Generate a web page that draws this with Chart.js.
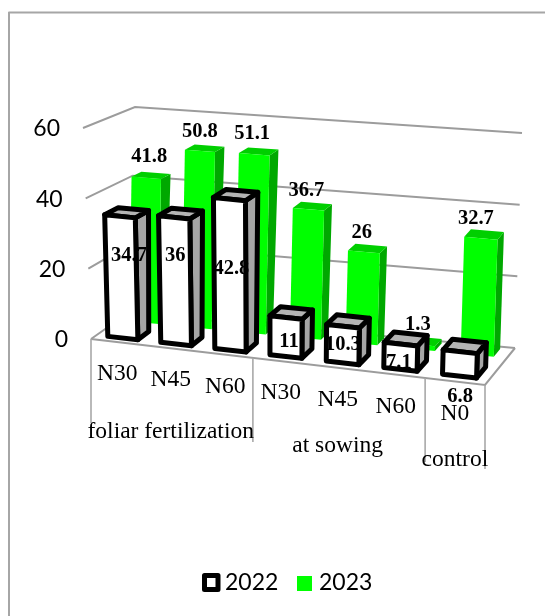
<!DOCTYPE html>
<html><head><meta charset="utf-8">
<style>html,body{margin:0;padding:0;background:#fff;overflow:hidden}canvas{display:block}</style>
<script src="https://cdn.jsdelivr.net/npm/chart.js@4"></script>
</head><body><canvas id="c" width="545" height="616"></canvas>
<script>
const categories = ['N30','N45','N60','N30','N45','N60','N0'];
const groupNames = ['foliar fertilization','at sowing','control'];
const groupSpans = [3,3,1];
const values2022 = [34.7,36,42.8,11,10.3,7.1,6.8];
const values2023 = [41.8,50.8,51.1,36.7,26,1.3,32.7];
const yTicks = [0,20,40,60];
// label nudges from the top-front centre of each bar, in px
const nudge2022 = [[9,39],[1,38],[2,70],[3,24],[0,18],[-2,19],[0,45]];
const nudge2023 = [[3,-21],[0,-19],[-2,-20],[-2,-19],[-2,-19],[-1,-20],[-5,-20]];
const groupNudge = [84,78,78];

const A={x:91,y:339},B={x:485,y:385},C={x:128,y:313},D={x:515,y:348};
const VA={x:-8,y:-211},VB={x:7,y:-215},VC={x:7,y:-206},VD={x:7,y:-215};
const k=0.93;
const warp=u=>k*u/(1+(k-1)*u);
const mix=(p,q,t)=>({x:p.x+(q.x-p.x)*t,y:p.y+(q.y-p.y)*t});
function project(u,v,h){
  const w=warp(u);
  const f=mix(mix(A,B,w),mix(C,D,w),v), t=mix(mix(VA,VB,w),mix(VC,VD,w),v);
  return {x:f.x+t.x*h,y:f.y+t.y*h};
}
function poly(ctx,pts,fill,stroke,lw){
  ctx.beginPath();pts.forEach((p,i)=>i?ctx.lineTo(p.x,p.y):ctx.moveTo(p.x,p.y));ctx.closePath();
  ctx.fillStyle=fill;ctx.fill();
  if(stroke&&lw){ctx.strokeStyle=stroke;ctx.lineWidth=lw;ctx.lineJoin='round';ctx.stroke();}
}
const uOf=(chart,px)=>(px-chart.scales.x.left)/chart.scales.x.width;
const hOf=(chart,val)=>{const y=chart.scales.y;return (y.bottom-y.getPixelForValue(val))/(y.bottom-y.top);};

Chart.BarController.prototype.draw=function(){
  const chart=this.chart,ctx=chart.ctx,ds=this.getDataset();
  this.getMeta().data.forEach(el=>{
    const u0=uOf(chart,el.x-el.width/2),u1=uOf(chart,el.x+el.width/2);
    const h=(el.base-el.y)/(chart.scales.y.bottom-chart.scales.y.top);
    const v0=ds.depthFrom,v1=ds.depthFrom+ds.depth;
    const P=(u,v,t)=>project(u,v,t);
    const side=[P(u1,v0,0),P(u1,v1,0),P(u1,v1,h),P(u1,v0,h)];
    const top=[P(u0,v0,h),P(u1,v0,h),P(u1,v1,h),P(u0,v1,h)];
    const front=[P(u0,v0,0),P(u1,v0,0),P(u1,v0,h),P(u0,v0,h)];
    poly(ctx,side,ds.sideColor,ds.edgeColor,ds.edgeWidth);
    poly(ctx,top,ds.topColor,ds.edgeColor,ds.edgeWidth);
    poly(ctx,front,ds.backgroundColor,ds.edgeColor,ds.edgeWidth);
  });
};

const chart3d={
  id:'chart3d',
  beforeDatasetsDraw(chart){
    const ctx=chart.ctx;
    ctx.save();
    ctx.strokeStyle='#9c9c9c';ctx.lineWidth=2;ctx.lineJoin='miter';
    const ln=pts=>{ctx.beginPath();pts.forEach((p,i)=>i?ctx.lineTo(p.x,p.y):ctx.moveTo(p.x,p.y));ctx.stroke();};
    yTicks.forEach(t=>{
      const h=hOf(chart,t);
      ln([project(0,0,h),project(0,1,h),project(1,1,h)]);
    });
    ln([project(0,0,0),project(1,0,0),project(1,1,0)]);
    // group separators
    ctx.strokeStyle='#a8a8a8';ctx.lineWidth=1.6;
    let acc=0;
    const n=categories.length;
    [0,...groupSpans].forEach(s=>{
      acc+=s;const p=project(acc/n,0,0);
      ln([p,{x:p.x,y:p.y+84}]);
    });
    ctx.restore();
  },
  afterDatasetsDraw(chart){
    const ctx=chart.ctx,n=categories.length,xs=chart.scales.x;
    ctx.save();
    ctx.textAlign='center';ctx.textBaseline='middle';ctx.fillStyle='#000';
    // value labels
    ctx.font='bold 20.5px "Liberation Serif"';
    chart.data.datasets.forEach((ds,di)=>{
      const nudges=di===0?nudge2022:nudge2023;
      chart.getDatasetMeta(di).data.forEach((el,i)=>{
        const p=project(uOf(chart,el.x),ds.depthFrom,hOf(chart,ds.data[i]));
        ctx.fillText(String(ds.data[i]),p.x+nudges[i][0],p.y+nudges[i][1]);
      });
    });
    // category labels
    ctx.font='23.5px "Liberation Serif"';
    categories.forEach((c,i)=>{
      const p=project(uOf(chart,xs.getPixelForTick(i)),0,0);
      ctx.fillText(c,p.x,p.y+32);
    });
    // group labels
    let acc=0;
    groupNames.forEach((g,i)=>{
      const p=project((acc+groupSpans[i]/2)/n,0,0);
      ctx.fillText(g,p.x,p.y+groupNudge[i]);
      acc+=groupSpans[i];
    });
    // y tick labels
    ctx.font='23px Lato';ctx.textAlign='right';
    yTicks.forEach(t=>{
      const h=hOf(chart,t),p=project(0,0,h);
      ctx.fillText(String(t),p.x-23,p.y+1);
    });
    // legend
    ctx.textAlign='left';
    const [d0,d1]=chart.data.datasets;
    ctx.strokeStyle=d0.edgeColor;ctx.lineWidth=5;ctx.lineJoin='round';ctx.fillStyle=d0.backgroundColor;
    ctx.beginPath();ctx.rect(204.5,575.5,13.5,14);ctx.fill();ctx.stroke();
    ctx.fillStyle='#000';ctx.fillText(d0.label,225,583);
    ctx.fillStyle=d1.backgroundColor;ctx.fillRect(297,576,15,15);
    ctx.fillStyle='#000';ctx.fillText(d1.label,319,583);
    // outer frame
    ctx.strokeStyle='#a6a6a6';ctx.lineWidth=2;
    ctx.beginPath();ctx.moveTo(9,616);ctx.lineTo(9,12.5);ctx.lineTo(545,12.5);ctx.stroke();
    ctx.restore();
  }
};

new Chart(document.getElementById('c'),{
  type:'bar',
  data:{labels:categories,datasets:[
    {label:'2022',data:values2022,backgroundColor:'#ffffff',sideColor:'#a6a6a6',topColor:'#b4b4b4',edgeColor:'#000000',edgeWidth:5,depthFrom:0.15,depth:0.3,clip:false,barPercentage:0.57},
    {label:'2023',data:values2023,backgroundColor:'#00ff00',sideColor:'#00a800',topColor:'#00cf00',edgeColor:null,edgeWidth:0,depthFrom:0.73,depth:0.21,clip:false,barPercentage:0.56}
  ]},
  options:{
    responsive:false,animation:false,
    layout:{padding:{left:91,right:60,top:128,bottom:277}},
    datasets:{bar:{grouped:false,categoryPercentage:1}},
    scales:{
      x:{type:'category',display:false,grid:{display:false}},
      y:{type:'linear',display:false,min:0,max:60,grid:{display:false},ticks:{stepSize:20}}
    },
    plugins:{legend:{display:false},tooltip:{enabled:false}}
  },
  plugins:[chart3d]
});
</script></body></html>
